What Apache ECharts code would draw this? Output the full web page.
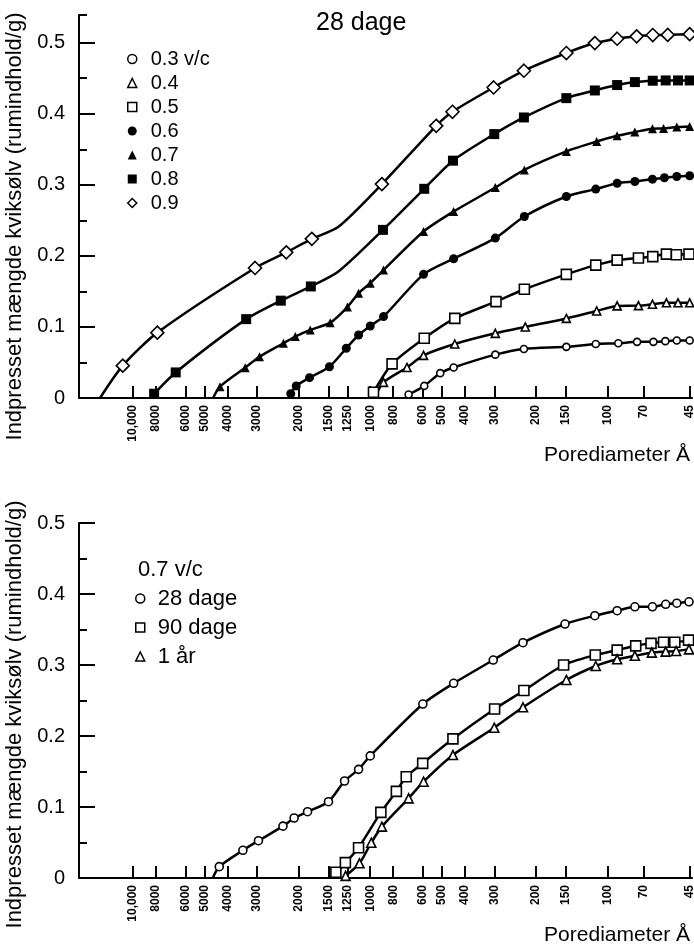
<!DOCTYPE html>
<html>
<head>
<meta charset="utf-8">
<script src="https://cdn.jsdelivr.net/npm/echarts@6/dist/echarts.min.js"></script>
<style>
  html, body { margin: 0; padding: 0; background: #fff; }
  #chart-container { width: 694px; height: 945px; }
</style>
</head>
<body>
<div id="chart-container"></div>
<script>
// tick values of the pore diameter axis (Å) and of the mercury volume axis
var diameterTicks = [10000, 8000, 6000, 5000, 4000, 3000, 2000, 1500, 1250, 1000, 800, 600, 500, 400, 300, 200, 150, 100, 70, 45];
var volumeTicks = [0, 0.1, 0.2, 0.3, 0.4, 0.5];
var volumeHalfTicksTop = [0.05, 0.15, 0.25, 0.35, 0.45, 0.539];
var volumeHalfTicksBottom = [0.05, 0.15, 0.25, 0.35, 0.45];

// --- 28 dage, one curve per v/c ratio ---
var d03 = [689, 592, 507, 445, 297, 225, 149, 112, 90, 75, 64, 57, 51, 45];
var v03 = [0.005, 0.017, 0.035, 0.043, 0.061, 0.069, 0.072, 0.076, 0.077, 0.079, 0.079, 0.080, 0.081, 0.081];

var d04 = [879, 700, 596, 440, 297, 222, 149, 111, 91, 74, 64.6, 56.4, 50.4, 45];
var v04 = [0.022, 0.043, 0.060, 0.076, 0.091, 0.100, 0.112, 0.1225, 0.1296, 0.130, 0.132, 0.134, 0.134, 0.134];
var curve04 = [[960, 0]];

var d05 = [969, 809, 592, 440, 295, 224, 149, 112, 91, 74, 64.4, 56.4, 51.2, 45.3];
var v05 = [0.008, 0.048, 0.084, 0.112, 0.1356, 0.153, 0.174, 0.187, 0.194, 0.197, 0.199, 0.2025, 0.2015, 0.2025];

var d06 = [2163, 2052, 1803, 1486, 1262, 1120, 1000, 879, 596, 445, 297, 224, 149, 112, 91, 76.6, 64.6, 57.5, 51, 45];
var v06 = [0.006, 0.017, 0.0286, 0.044, 0.070, 0.0887, 0.1014, 0.1146, 0.174, 0.196, 0.225, 0.2554, 0.2836, 0.294, 0.3023, 0.3047, 0.308, 0.310, 0.3117, 0.3127];

var d07 = [4300, 3366, 2930, 2323, 2070, 1790, 1475, 1248, 1120, 1000, 879, 596, 445, 297, 224, 149, 111, 91, 76.6, 64.6, 58, 51, 45];
var v07 = [0.016, 0.0427, 0.058, 0.077, 0.0864, 0.0958, 0.106, 0.128, 0.1474, 0.1615, 0.180, 0.2343, 0.2624, 0.2962, 0.321, 0.347, 0.361, 0.369, 0.3742, 0.379, 0.3793, 0.3813, 0.382];
var curve07 = [[4600, 0]];

var d08 = [8150, 6610, 3335, 2383, 1780, 884, 592, 448, 300, 225, 149, 113, 91, 76.6, 64.4, 56.8, 50.4, 45];
var v08 = [0.006, 0.036, 0.111, 0.137, 0.157, 0.2366, 0.2944, 0.334, 0.3714, 0.3948, 0.422, 0.4328, 0.4404, 0.4446, 0.4465, 0.4469, 0.4469, 0.4469];
var curve08 = [[1362, 0.178]];

var d09 = [11050, 7900, 3060, 2259, 1763, 893, 527, 450, 302, 225, 149, 113, 91, 75.3, 64.4, 55.7, 45];
var v09 = [0.0455, 0.092, 0.183, 0.205, 0.224, 0.301, 0.383, 0.4028, 0.437, 0.4606, 0.4855, 0.4995, 0.5056, 0.509, 0.5108, 0.511, 0.512];
var curve09 = [[13780, 0], [1362, 0.241]];

// --- 0.7 v/c, by age ---
var d28 = [4330, 3443, 2960, 2333, 2094, 1838, 1500, 1283, 1120, 1000, 600, 445, 303, 227, 151, 113, 91, 76.6, 64.6, 56.8, 51, 45.3];
var v28 = [0.016, 0.039, 0.0525, 0.073, 0.0845, 0.0934, 0.1075, 0.1366, 0.153, 0.172, 0.245, 0.2742, 0.307, 0.3314, 0.3577, 0.3694, 0.3765, 0.382, 0.382, 0.3855, 0.387, 0.389];
var curve28 = [[4613, 0]];

var d90 = [1396, 1273, 1120, 902, 776, 705, 601, 448, 299, 225, 153, 112.5, 91, 76, 65.5, 58, 52, 45.5];
var v90 = [0.008, 0.0216, 0.0427, 0.0925, 0.122, 0.1427, 0.1615, 0.196, 0.238, 0.264, 0.300, 0.314, 0.321, 0.327, 0.3305, 0.332, 0.332, 0.335];

var d1aar = [1270, 1110, 990, 893, 689, 596, 448, 300, 227, 149, 112, 91, 76.6, 65, 56.8, 51.3, 45.3];
var v1aar = [0.003, 0.0207, 0.0497, 0.0723, 0.1122, 0.1356, 0.1732, 0.2117, 0.2404, 0.2789, 0.2986, 0.308, 0.313, 0.3174, 0.3188, 0.3197, 0.322];

var FONT = '"Liberation Sans", Arial, Helvetica, sans-serif';
var yName = 'Indpresset mængde kviksølv (rumindhold/g)';

// measured points get a marker, curve-only points (axis crossing, kinks) do not
function points(xs, ys, curveOnly) {
    var data = xs.map(function (x, i) { return [x, ys[i]]; });
    (curveOnly || []).forEach(function (p) {
        data.push({ value: p, symbol: 'none' });
    });
    data.sort(function (a, b) {
        return (b.value || b)[0] - (a.value || a)[0];
    });
    return data;
}

function curve(name, data, symbol, size, hollow, panel) {
    return {
        name: name,
        type: 'line',
        xAxisIndex: panel,
        yAxisIndex: panel * 2,
        data: data,
        smooth: 0.25,
        symbol: symbol,
        symbolSize: size,
        showAllSymbol: true,
        lineStyle: { color: '#000', width: 2.5 },
        itemStyle: {
            color: hollow ? '#fff' : '#000',
            borderColor: '#000',
            borderWidth: hollow ? 1.6 : 0
        },
        emphasis: { disabled: true },
        z: 3
    };
}

function legendItem(name, icon, hollow) {
    return {
        name: name,
        icon: icon,
        itemStyle: {
            color: hollow ? '#fff' : '#000',
            borderColor: '#000',
            borderWidth: hollow ? 1.5 : 0
        }
    };
}

function xAxis(panel) {
    return {
        type: 'log',
        gridIndex: panel,
        inverse: true,
        min: 44,
        max: 16900,
        axisLine: { show: true, lineStyle: { color: '#000', width: 2 } },
        axisTick: {
            show: true, inside: true, length: 12,
            customValues: diameterTicks,
            lineStyle: { color: '#000', width: 2 }
        },
        axisLabel: {
            customValues: diameterTicks,
            rotate: 90,
            margin: 7,
            fontSize: 12,
            fontWeight: 'bold',
            fontFamily: FONT,
            color: '#000',
            formatter: function (v) { return v === 10000 ? '10,000' : String(v); }
        },
        splitLine: { show: false },
        minorTick: { show: false }
    };
}

function yMain(panel, max, shift) {
    return {
        type: 'value',
        gridIndex: panel,
        position: 'left',
        min: 0,
        max: max,
        axisLine: { show: true, lineStyle: { color: '#000', width: 2 } },
        axisTick: {
            show: true, inside: true, length: 16,
            customValues: volumeTicks,
            lineStyle: { color: '#000', width: 2 }
        },
        axisLabel: {
            customValues: volumeTicks,
            margin: 14,
            fontSize: 20,
            fontFamily: FONT,
            color: '#000',
            formatter: function (v) { return v === 0 ? '0' : v.toFixed(1); }
        },
        splitLine: { show: false },
        name: yName,
        nameLocation: 'middle',
        nameRotate: 90,
        nameGap: 46,
        nameTextStyle: { fontSize: 22, fontFamily: FONT, color: '#000', padding: [0, shift, 0, 0] }
    };
}

function yHalf(panel, max, ticks) {
    return {
        type: 'value',
        gridIndex: panel,
        position: 'left',
        min: 0,
        max: max,
        axisLine: { show: false },
        axisTick: {
            show: true, inside: true, length: 8,
            customValues: ticks,
            lineStyle: { color: '#000', width: 2 }
        },
        axisLabel: { show: false },
        splitLine: { show: false }
    };
}

var dom = document.getElementById('chart-container');
var myChart = echarts.init(dom, null, { renderer: 'canvas' });

var option = {
    animation: false,
    backgroundColor: '#fff',
    textStyle: { fontFamily: FONT, color: '#000' },
    title: [
        { text: '28 dage', left: 316, top: 11, padding: 0,
          textStyle: { fontSize: 25, fontWeight: 'normal', fontFamily: FONT, color: '#000' } },
        { text: 'Porediameter Å', right: 4, top: 445, padding: 0,
          textStyle: { fontSize: 21, fontWeight: 'normal', fontFamily: FONT, color: '#000' } },
        { text: '0.7 v/c', left: 138, top: 559, padding: 0,
          textStyle: { fontSize: 22, fontWeight: 'normal', fontFamily: FONT, color: '#000' } },
        { text: 'Porediameter Å', right: 4, top: 925, padding: 0,
          textStyle: { fontSize: 21, fontWeight: 'normal', fontFamily: FONT, color: '#000' } }
    ],
    legend: [
        {
            orient: 'vertical', left: 127, top: 47, padding: 0,
            itemWidth: 9, itemHeight: 9, itemGap: 0,
            selectedMode: false,
            textStyle: { fontSize: 20, lineHeight: 24, fontFamily: FONT, color: '#000', padding: [0, 0, 0, 9] },
            data: [
                legendItem('0.3 v/c', 'circle', true),
                legendItem('0.4', 'triangle', true),
                legendItem('0.5', 'rect', true),
                legendItem('0.6', 'circle', false),
                legendItem('0.7', 'triangle', false),
                legendItem('0.8', 'rect', false),
                legendItem('0.9', 'diamond', true)
            ]
        },
        {
            orient: 'vertical', left: 135, top: 584, padding: 0,
            itemWidth: 9, itemHeight: 9, itemGap: 0,
            selectedMode: false,
            textStyle: { fontSize: 22, lineHeight: 29, fontFamily: FONT, color: '#000', padding: [0, 0, 0, 8] },
            data: [
                legendItem('28 dage', 'circle', true),
                legendItem('90 dage', 'rect', true),
                legendItem('1 år', 'triangle', true)
            ]
        }
    ],
    grid: [
        { left: 79, right: 2, top: 15, height: 383, containLabel: false, outerBoundsMode: 'none' },
        { left: 79, right: 2, top: 523, height: 355, containLabel: false, outerBoundsMode: 'none' }
    ],
    xAxis: [xAxis(0), xAxis(1)],
    yAxis: [
        yMain(0, 0.539, 40),
        yHalf(0, 0.539, volumeHalfTicksTop),
        yMain(1, 0.5, 28),
        yHalf(1, 0.5, volumeHalfTicksBottom)
    ],
    series: [
        curve('0.3 v/c', points(d03, v03), 'circle', 7, true, 0),
        curve('0.4', points(d04, v04, curve04), 'triangle', 8, true, 0),
        curve('0.5', points(d05, v05), 'rect', 10, true, 0),
        curve('0.6', points(d06, v06), 'circle', 9, false, 0),
        curve('0.7', points(d07, v07, curve07), 'triangle', 9, false, 0),
        curve('0.8', points(d08, v08, curve08), 'rect', 10, false, 0),
        curve('0.9', points(d09, v09, curve09), 'diamond', 13, true, 0),
        curve('28 dage', points(d28, v28, curve28), 'circle', 8, true, 1),
        curve('90 dage', points(d90, v90), 'rect', 10, true, 1),
        curve('1 år', points(d1aar, v1aar), 'triangle', 9, true, 1)
    ]
};

myChart.setOption(option);
window.addEventListener('resize', myChart.resize);
</script>
</body>
</html>
